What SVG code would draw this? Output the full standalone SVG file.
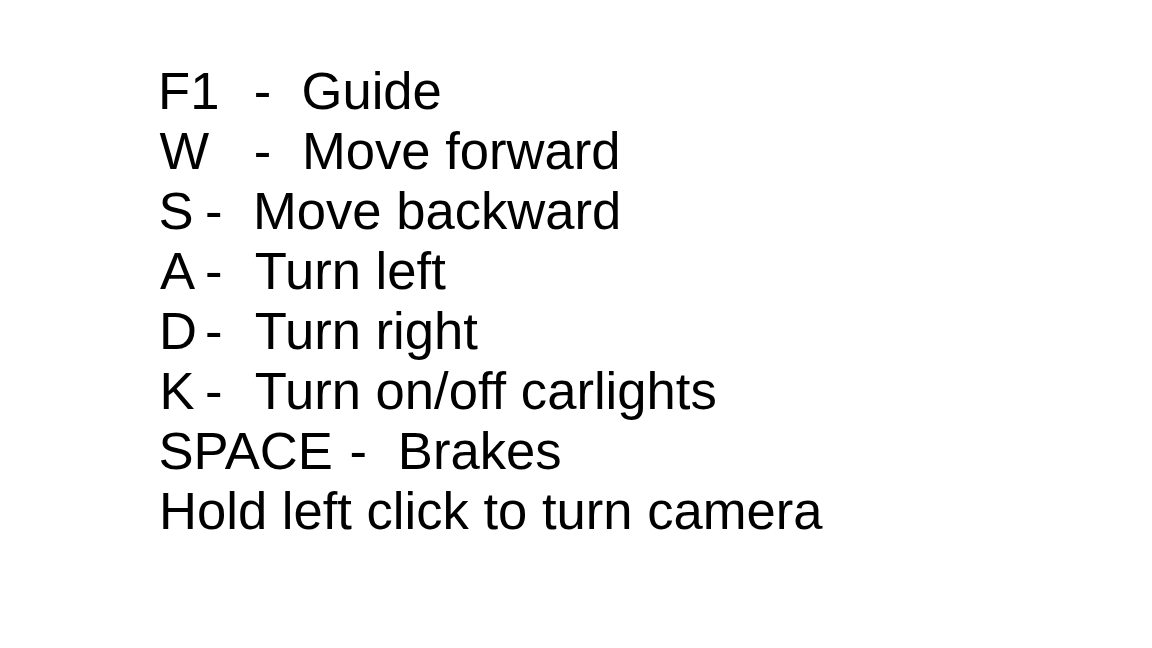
<svg xmlns="http://www.w3.org/2000/svg" width="1152" height="648" viewBox="0 0 1152 648">
<style>
text { font-family: "Liberation Sans", Arial, sans-serif; font-size: 52.6px; fill: #000; }
</style>
<rect width="1152" height="648" fill="#fff"/>
<g id="line-f1"><text y="109"><tspan x="158">F1</tspan><tspan x="253.7">-</tspan><tspan x="301.5">Guide</tspan></text></g>
<g id="line-w"><text y="169"><tspan x="159.5">W</tspan><tspan x="253.7">-</tspan><tspan x="302">Move forward</tspan></text></g>
<g id="line-s"><text y="229"><tspan x="158.5">S</tspan><tspan x="205">-</tspan><tspan x="253">Move backward</tspan></text></g>
<g id="line-a"><text y="289"><tspan x="160">A</tspan><tspan x="205">-</tspan><tspan x="254.8">Turn left</tspan></text></g>
<g id="line-d"><text y="349"><tspan x="159">D</tspan><tspan x="205">-</tspan><tspan x="254.8">Turn right</tspan></text></g>
<g id="line-k"><text y="409"><tspan x="159.5">K</tspan><tspan x="205">-</tspan><tspan x="254.8">Turn on/off carlights</tspan></text></g>
<g id="line-space"><text y="469"><tspan x="158.5">SPACE</tspan><tspan x="349.4">-</tspan><tspan x="397.8">Brakes</tspan></text></g>
<g id="line-camera"><text x="159" y="529">Hold left click to turn camera</text></g>
</svg>
